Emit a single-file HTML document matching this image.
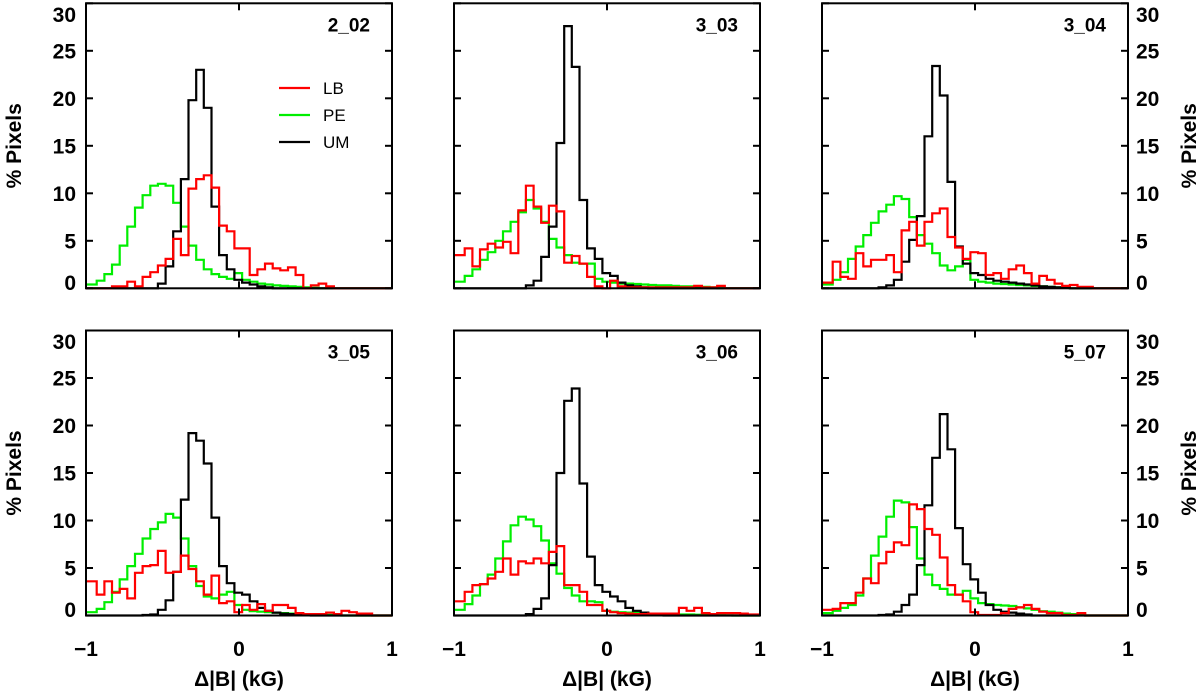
<!DOCTYPE html>
<html><head><meta charset="utf-8"><style>
html,body{margin:0;padding:0;background:#fff;}
svg{display:block;}
text{font-family:"Liberation Sans",sans-serif;}
</style></head><body>
<svg id="chart" width="1200" height="697" viewBox="0 0 1200 697" xmlns="http://www.w3.org/2000/svg"></svg>
<script>
const binEdges = [-1, 1];
const binOffset = 0.02;
const nBins = 40;
const yTicks = [0, 5, 10, 15, 20, 25, 30];
const xTicks = [-1, 0, 1];
const xTickLabels = ["\u22121", "0", "1"];
const panelNames = ["2_02", "3_03", "3_04", "3_05", "3_06", "5_07"];

const lb202 = [0,0,0,0.2,0.2,0.7,0.2,1.2,1.7,2.4,3.1,5.2,3.5,10.5,11.5,11.9,10.6,6.6,6,4.2,4.2,1.4,2,2.6,2.1,1.9,2.2,1.4,0,0.3,0.5,0.2,0,0,0,0,0,0,0,0];
const pe202 = [0.4,0.8,1.5,2.5,4.5,6.5,8.5,9.8,10.8,11,10.8,9,6.5,4.5,3,2,1.5,1.2,1.0,1.6,0.9,0.7,0.5,0.4,0.3,0.25,0.2,0.15,0.1,0.05,0,0,0,0,0,0,0,0,0,0];
const um202 = [0,0,0,0,0,0,0,0,0,0.5,2.3,6,11.5,19.8,23,19,8.6,3.5,2,0.9,0.6,0.4,0.2,0.1,0,0,0,0,0,0,0,0,0,0,0,0,0,0,0,0];

const lb303 = [3.5,4.2,2.3,4.1,4.7,4.3,4.9,3.7,8.2,10.8,8.6,6.9,8.7,8.1,2.7,3.4,2.6,1.2,0.2,0,0.8,0.2,0.1,0.1,0.1,0.1,0.1,0.1,0.1,0.1,0.1,0.25,0.1,0.1,0.25,0,0,0,0,0];
const pe303 = [0.7,1.3,2,3,3.8,5,6,7,8,9.3,8.4,7,5.2,4.3,3.5,2.7,2.6,2.6,1.0,0.7,0.6,0.5,0.5,0.45,0.4,0.35,0.3,0.3,0.25,0.2,0.2,0.2,0.15,0.1,0,0,0,0,0,0];
const um303 = [0,0,0,0,0,0,0,0,0,0.3,0.8,3.3,6.5,15.3,27.6,23.3,9.3,4.2,3.1,1.6,1.3,0.6,0.3,0.2,0.1,0,0,0,0,0,0,0,0,0,0,0,0,0,0,0];

const lb304 = [0.6,2.8,1.2,1.0,3.7,2.3,3,3,3.5,1.7,6.1,7,4.5,7,7.9,8.4,5.4,4.3,3.1,3.8,3.7,1.4,1.6,1.0,2,2.4,1.6,0.5,1.3,0.9,0.5,0.25,0.35,0.15,0.15,0,0,0,0,0];
const pe304 = [0.4,0.9,1.7,3.1,4.4,5.6,6.9,8.1,8.8,9.7,9.4,7.5,5.6,4.7,3.7,2.4,1.9,2.3,3.0,0.9,0.7,0.6,0.5,0.45,0.4,0.35,0.3,0.25,0.2,0.15,0.1,0.05,0,0,0,0,0,0,0,0];
const um304 = [0,0,0,0,0,0,0,0.1,0.3,0.9,2.8,5.1,7.6,16,23.4,20.3,11.2,4.4,2.6,1.6,1.4,1.0,0.8,0.7,0.6,0.5,0.4,0.3,0.2,0.15,0.1,0.05,0,0,0,0,0,0,0,0];

const lb305 = [3.6,2.2,3.6,2.4,2.8,1.8,4.5,5.2,5.3,6.8,4.5,4.6,6.3,4.9,3.6,2.2,4.2,1.3,1.5,0.35,1.1,0.6,1.2,0.5,1.1,1.1,0.8,0.25,0.15,0.15,0.15,0.3,0.15,0.5,0.35,0.2,0.2,0,0,0];
const pe305 = [0.35,0.7,1.4,2.5,3.8,5.2,6.5,8.1,9.1,9.8,10.7,10.3,8.1,5.2,3.1,2,1.8,2.2,2.5,1.1,0.6,0.45,0.4,0.35,0.3,0.25,0.2,0.15,0.12,0.1,0.08,0.05,0.03,0,0,0,0,0,0,0];
const um305 = [0,0,0,0,0,0,0,0.05,0.1,0.6,1.6,4.6,12.2,19.2,18.4,16,10.3,5.2,3.4,2.4,2.2,1.5,0.8,0.5,0.3,0.2,0.15,0.1,0.05,0,0,0,0,0,0,0,0,0,0,0];

const lb306 = [1.5,2.5,3.2,3.3,3.9,4.6,6,4.3,5.7,5.5,6,5.5,6.7,7.3,3.2,3.2,2.5,1.1,1.1,0.5,0.35,0.25,0.2,0.15,0.15,0.2,0.2,0.2,0.2,0.8,0.5,0.8,0.25,0.15,0.25,0.25,0.25,0.2,0.1,0.1];
const pe306 = [0.6,1.2,2.1,3.3,4.3,6,7.8,9.5,10.4,10.1,9.4,7.9,5.5,4.4,2.9,2.1,1.5,1.5,1.4,0.5,0.4,0.35,0.3,0.3,0.25,0.2,0.2,0.15,0.15,0.1,0.1,0.08,0.05,0.05,0.03,0.02,0,0,0,0];
const um306 = [0,0,0,0,0,0,0,0,0,0.15,0.7,1.8,5.3,15,22.6,23.9,13.9,6.2,3.2,2.5,2,1.5,0.8,0.5,0.3,0.2,0.1,0,0,0,0,0,0,0,0,0,0,0,0,0];

const lb507 = [0.6,0.7,1.3,1.3,2.4,3.9,3.4,5.5,6.7,7.7,7.4,11.7,11.2,9.1,8.5,6.1,3.2,2.2,1.5,0.35,0.05,0.05,0.05,0.25,0.7,0.85,1.1,0.7,0.4,0.25,0.25,0.05,0.05,0.25,0,0,0,0,0,0];
const pe507 = [0.25,0.5,0.8,1.1,2.1,3.9,6.3,8.3,10.4,12.1,11.9,9.3,6,4.3,3.2,2.8,2.2,2.2,2.6,1.8,1.3,1.2,1.1,1.05,1.0,0.85,0.75,0.6,0.45,0.4,0.3,0.2,0.15,0.1,0,0,0,0,0,0];
const um507 = [0,0,0,0,0,0,0,0.05,0.1,0.4,1.1,2.2,5.3,11.6,16.6,21.2,17.5,9.2,5.4,3.8,2.4,1.1,0.6,0.4,0.3,0.2,0.1,0,0,0,0,0,0,0,0,0,0,0,0,0];

const lbSeries = [lb202, lb303, lb304, lb305, lb306, lb507];
const peSeries = [pe202, pe303, pe304, pe305, pe306, pe507];
const umSeries = [um202, um303, um304, um305, um306, um507];

const NS = "http://www.w3.org/2000/svg";
const svg = document.getElementById("chart");
function mk(tag, attrs, parent) {
  const e = document.createElementNS(NS, tag);
  for (const k in attrs) e.setAttribute(k, attrs[k]);
  (parent || svg).appendChild(e);
  return e;
}
const colLeft = [86, 454, 822];
const rowTop = [3.3, 330.5];
const W = 306, H = 285;

for (let p = 0; p < 6; p++) {
  const col = p % 3, row = Math.floor(p / 3);
  const x0 = colLeft[col], y0 = rowTop[row];
  const xs = v => x0 + (v - binEdges[0]) / (binEdges[1] - binEdges[0]) * W;
  const ys = v => y0 + H - v / 30 * H;
  const g = mk("g", {});
  
  

  const series = [[peSeries[p], "#00ee00", "pe"], [umSeries[p], "#000000", "um"], [lbSeries[p], "#ff0000", "lb"]];
  const bw = (binEdges[1] - binEdges[0]) / nBins;
  const clamp = v => Math.max(binEdges[0], Math.min(binEdges[1], v));
  for (const [vals, color, nm] of series) {
    let d = "";
    for (let i = 0; i < vals.length; i++) {
      const a = xs(clamp(binEdges[0] + binOffset + i * bw)), b = xs(clamp(binEdges[0] + binOffset + (i + 1) * bw)), y = ys(vals[i]);
      if (i === 0) d += "M" + xs(binEdges[0]).toFixed(1) + "," + y.toFixed(1);
      else d += "L" + a.toFixed(1) + "," + y.toFixed(1);
      d += "L" + b.toFixed(1) + "," + y.toFixed(1);
    }
    const path = mk("path", {d: d, fill: "none", stroke: color, "stroke-width": 2.2, "stroke-linejoin": "miter"}, g);
    
    
  }
  const frame = mk("rect", {x: x0, y: y0, width: W, height: H, fill: "none", stroke: "#000", "stroke-width": 2}, g);
  
  
  for (const t of yTicks) {
    const y = ys(t);
    let cy = y;
    if (t === 30) cy = y0 + 11;
    if (t === 0) cy = y0 + H - 6;
    mk("line", {x1: x0, x2: x0 + 7, y1: y, y2: y, stroke: "#000", "stroke-width": 2}, g);
    mk("line", {x1: x0 + W - 7, x2: x0 + W, y1: y, y2: y, stroke: "#000", "stroke-width": 2}, g);
    if (col === 0) {
      const tl = mk("text", {x: 76, y: cy + 7.5, "text-anchor": "end", "font-size": 21, "font-weight": "bold"}, g);
      tl.textContent = t;
      
      
    }
    if (col === 2) {
      const tr = mk("text", {x: 1136, y: cy + 7.5, "text-anchor": "start", "font-size": 21, "font-weight": "bold"}, g);
      tr.textContent = t;
      
      
    }
  }
  xTicks.forEach((t, i) => {
    const x = xs(t);
    mk("line", {x1: x, x2: x, y1: y0, y2: y0 + 7, stroke: "#000", "stroke-width": 2}, g);
    mk("line", {x1: x, x2: x, y1: y0 + H - 7, y2: y0 + H, stroke: "#000", "stroke-width": 2}, g);
    if (row === 1) {
      const xl = mk("text", {x: x, y: 656, "text-anchor": "middle", "font-size": 21, "font-weight": "bold"}, g);
      xl.textContent = xTickLabels[i];
      
      
    }
  });
  if (row === 1) {
    const xt = mk("text", {x: x0 + W / 2, y: 686, "text-anchor": "middle", "font-size": 21, "font-weight": "bold"}, g);
    xt.textContent = "\u0394|B| (kG)";
    
    
  }
  const pn = mk("text", {x: x0 + W - 22, y: y0 + 28, "text-anchor": "end", "font-size": 19, "font-weight": "bold"}, g);
  pn.textContent = panelNames[p];
  
  
  if (col === 0) {
    const yt = mk("text", {x: 0, y: 0, transform: "translate(21," + (y0 + H / 2) + ") rotate(-90)", "text-anchor": "middle", "font-size": 21, "font-weight": "bold"}, g);
    yt.textContent = "% Pixels";
    
    
  }
  if (col === 2) {
    const yr = mk("text", {x: 0, y: 0, transform: "translate(1196," + (y0 + H / 2) + ") rotate(-90)", "text-anchor": "middle", "font-size": 21, "font-weight": "bold"}, g);
    yr.textContent = "% Pixels";
    
    
  }
}
// legend
const legendItems = [["LB", "#ff0000", 88], ["PE", "#00ee00", 115], ["UM", "#000000", 142]];
for (const [lab, c, y] of legendItems) {
  const lg = mk("g", {});
  
  
  mk("line", {x1: 279, x2: 310, y1: y, y2: y, stroke: c, "stroke-width": 2.2}, lg);
  const t = mk("text", {x: 323, y: y + 6, "font-size": 17}, lg);
  t.textContent = lab;
}
</script>
</body></html>
